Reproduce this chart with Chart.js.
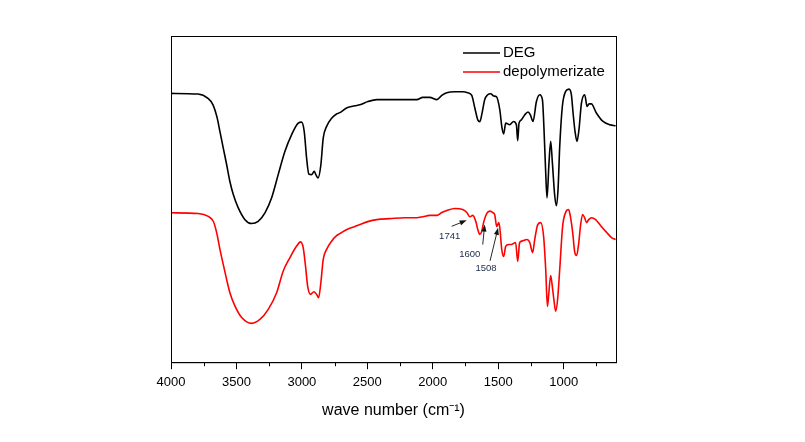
<!DOCTYPE html>
<html>
<head>
<meta charset="utf-8">
<script src="https://cdn.jsdelivr.net/npm/chart.js@4/dist/chart.umd.min.js"></script>
<style>
html, body { margin:0; padding:0; background:#fff; }
</style>
</head>
<body>
<canvas id="ir-chart" width="805" height="442"></canvas>
<script>
// FTIR spectra, wavenumber (cm-1) / transmittance (a.u., curves offset)
var waveDEG = [4000,3794,3718,3679,3649,3626,3601,3575,3550,3524,3486,3435,3384,3334,3282,3231,3181,3130,3079,3028,3002,2982,2964,2947,2926,2906,2893,2876,2855,2837,2811,2773,2735,2710,2656,2595,2557,2496,2427,2328,2214,2122,2076,2023,1969,1931,1893,1832,1771,1733,1702,1679,1656,1641,1626,1603,1580,1557,1534,1514,1488,1471,1458,1443,1412,1382,1361,1351,1341,1323,1298,1272,1254,1234,1208,1183,1162,1150,1137,1127,1112,1099,1086,1069,1056,1043,1030,1010,985,959,941,928,913,898,883,864,839,821,806,788,750,699,648,603];
var transDEG = [82.4,82.2,80.9,78.9,75.2,70.7,65.7,60.6,55.4,51.4,47.3,43.7,42.5,43.2,45.8,50.4,57.5,64.6,69.7,73.3,73.6,70.7,62.6,57.7,57.5,58.5,57.5,56.5,60.5,68.7,72.3,74.8,76.1,76.5,78.0,78.6,78.9,79.9,80.5,80.5,80.5,80.5,81.2,81.2,80.5,81.8,82.6,82.9,82.9,82.6,81.8,78.0,74.3,73.7,75.8,80.5,82.0,82.3,81.6,81.4,77.4,71.8,70.0,73.3,72.8,73.8,72.8,67.9,73.3,74.3,75.8,76.7,75.8,73.8,79.9,82.0,80.4,71.3,58.0,50.4,61.1,67.7,61.1,51.4,48.0,52.9,66.1,78.4,83.0,83.7,82.0,76.4,70.7,67.7,71.3,79.4,82.0,78.4,79.2,79.2,76.4,73.8,72.8,72.5];

var waveDepoly = [4000,3792,3715,3677,3651,3626,3601,3575,3550,3511,3460,3384,3321,3257,3193,3143,3092,3040,3010,2990,2972,2956,2934,2908,2888,2872,2855,2837,2811,2773,2735,2710,2656,2595,2557,2496,2427,2328,2214,2122,2076,2023,1969,1931,1893,1832,1771,1740,1717,1694,1671,1656,1641,1626,1610,1587,1565,1542,1527,1511,1496,1488,1473,1458,1443,1420,1397,1367,1351,1336,1306,1283,1259,1237,1221,1198,1175,1153,1137,1124,1114,1099,1084,1069,1061,1046,1030,1008,985,962,947,931,916,901,886,870,855,840,825,809,786,756,718,672,634,603];
var transDepoly = [45.8,45.6,44.7,43.2,39.7,34.6,30.0,25.4,21.3,17.2,13.7,11.9,13.1,16.2,21.3,27.9,32.0,35.6,36.9,35.1,29.4,23.3,20.8,21.6,20.8,19.8,24.4,31.5,34.6,37.1,38.8,39.4,40.7,41.6,42.2,43.1,43.7,44.0,44.3,44.3,44.6,45.0,45.0,45.9,46.5,47.1,46.8,45.9,44.6,45.0,43.1,40.7,39.2,40.1,43.1,45.6,46.3,45.9,45.3,41.6,42.8,41.3,34.6,32.4,35.5,36.1,36.1,36.7,30.9,36.7,37.3,37.6,36.7,33.6,37.6,42.2,42.8,38.5,28.4,17.1,20.8,26.6,22.3,17.4,15.6,19.3,28.4,41.6,45.9,46.8,44.3,39.8,33.9,32.7,36.1,42.2,45.3,44.3,42.8,43.7,44.3,43.7,41.9,39.8,38.2,37.6];

var xTicks = [4000,3500,3000,2500,2000,1500,1000];
var xMinor = [3750,3250,2750,2250,1750,1250,750];

// marked bands of the depolymerizate
var peakNames = ["1741","1600","1508"];
var peakWave = [1741,1603,1501];
var peakTrans = [43.5,42.2,41.2];

function toPoints(xs, ys){
	return xs.map(function(x, i){ return {x:x, y:ys[i]}; });
}

// frame, minor ticks, legend and peak arrows
var extras = {
	id: 'extras',
	afterDraw: function(chart){
		var ctx = chart.ctx;
		var a = chart.chartArea;
		var xs = chart.scales.x, ys = chart.scales.y;
		ctx.save();
		ctx.strokeStyle = '#000';
		ctx.lineWidth = 1;
		ctx.strokeRect(a.left + 0.5, a.top + 0.5, a.right - a.left, a.bottom - a.top);

		ctx.beginPath();
		xMinor.forEach(function(v){
			var px = Math.round(xs.getPixelForValue(v)) + 0.5;
			ctx.moveTo(px, a.bottom);
			ctx.lineTo(px, a.bottom + 4);
		});
		ctx.stroke();

		// legend
		var ds = chart.data.datasets;
		ctx.font = '15px Arial, "Liberation Sans", sans-serif';
		ctx.textBaseline = 'middle';
		ctx.textAlign = 'left';
		for (var i = 0; i < ds.length; i++) {
			var ly = a.top + 17 + i * 19;
			ctx.strokeStyle = ds[i].borderColor;
			ctx.lineWidth = 1.6;
			ctx.beginPath();
			ctx.moveTo(a.right - 153, ly);
			ctx.lineTo(a.right - 116, ly);
			ctx.stroke();
			ctx.fillStyle = '#000';
			ctx.fillText(ds[i].label, a.right - 113, ly);
		}

		// arrows
		var tails = [[-15, 6], [-2, 20], [-8, 33]];
		var texts = [[-17, 16], [-15, 30], [-12, 41]];
		ctx.font = '9.5px Arial, "Liberation Sans", sans-serif';
		ctx.textAlign = 'center';
		for (var k = 0; k < peakNames.length; k++) {
			var hx = xs.getPixelForValue(peakWave[k]);
			var hy = ys.getPixelForValue(peakTrans[k]);
			var tx = hx + tails[k][0], ty = hy + tails[k][1];
			var ang = Math.atan2(hy - ty, hx - tx);
			ctx.strokeStyle = '#111';
			ctx.fillStyle = '#111';
			ctx.lineWidth = 0.9;
			ctx.beginPath();
			ctx.moveTo(tx, ty);
			ctx.lineTo(hx - 4 * Math.cos(ang), hy - 4 * Math.sin(ang));
			ctx.stroke();
			ctx.beginPath();
			ctx.moveTo(hx, hy);
			ctx.lineTo(hx - 7 * Math.cos(ang) + 2.5 * Math.sin(ang), hy - 7 * Math.sin(ang) - 2.5 * Math.cos(ang));
			ctx.lineTo(hx - 7 * Math.cos(ang) - 2.5 * Math.sin(ang), hy - 7 * Math.sin(ang) + 2.5 * Math.cos(ang));
			ctx.closePath();
			ctx.fill();
			ctx.fillStyle = '#1c2a48';
			ctx.fillText(peakNames[k], hx + texts[k][0], hy + texts[k][1]);
		}
		ctx.restore();
	}
};

new Chart(document.getElementById("ir-chart"), {
	type: 'line',
	data: {
		datasets: [
			{
				label: "DEG",
				data: toPoints(waveDEG, transDEG),
				borderColor: "#000000",
				borderWidth: 1.6,
				pointRadius: 0,
				fill: false,
				cubicInterpolationMode: 'monotone'
			}, {
				label: "depolymerizate",
				data: toPoints(waveDepoly, transDepoly),
				borderColor: "#ff0000",
				borderWidth: 1.6,
				pointRadius: 0,
				fill: false,
				cubicInterpolationMode: 'monotone'
			}
		]
	},
	options: {
		responsive: false,
		animation: false,
		devicePixelRatio: 1,
		layout: { padding: { left: 171, right: 189, top: 36, bottom: 22 } },
		plugins: {
			legend: { display: false },
			tooltip: { enabled: false }
		},
		scales: {
			x: {
				type: 'linear',
				reverse: true,
				min: 600,
				max: 4000,
				afterBuildTicks: function(axis){
					axis.ticks = xTicks.map(function(v){ return {value: v}; });
				},
				grid: { display: true, drawOnChartArea: false, drawTicks: true, tickLength: 7, color: '#000', tickColor: '#000', lineWidth: 1 },
				border: { display: true, color: '#000' },
				ticks: {
					padding: 5,
					color: '#000',
					maxRotation: 0,
					font: { family: 'Arial, "Liberation Sans", sans-serif', size: 13 },
					callback: function(value){ return String(value); }
				},
				title: {
					display: true,
					text: 'wave number (cm\u207B\u00B9)',
					color: '#000',
					padding: { top: 6, bottom: 0 },
					font: { family: 'Arial, "Liberation Sans", sans-serif', size: 16 }
				}
			},
			y: {
				display: false,
				min: 0,
				max: 100
			}
		}
	},
	plugins: [extras]
});
</script>
</body>
</html>
